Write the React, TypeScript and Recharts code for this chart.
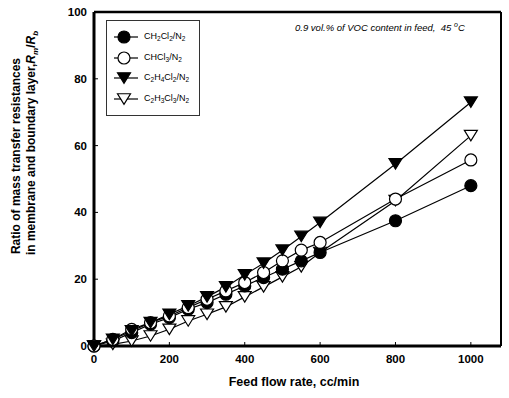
import React from 'react';
import { LineChart, Line, XAxis, YAxis, ReferenceLine, Label } from 'recharts';

const flowRates = [0, 50, 100, 150, 200, 250, 300, 350, 400, 450, 500, 550, 600, 800, 1000];
const ch2cl2 = [0, 1.5, 4, 6.5, 8.5, 11, 13, 15.5, 18, 20.5, 23, 25.5, 28, 37.5, 48];
const chcl3 = [0, 2, 5, 7, 9, 11.5, 14, 16.5, 19, 22, 25.5, 28.7, 31, 44, 55.7];
const c2h4cl2 = [0, 2, 4.5, 7, 9.5, 12, 14.7, 17.7, 21.3, 24.8, 28.7, 32.8, 37, 54.5, 73];
const c2h3cl3 = [0, 0.5, 1.5, 3, 5, 7.5, 9.5, 11.7, 14.7, 17.7, 20.7, 23.7, 28, 43.5, 63];
const xTicks = [0, 200, 400, 600, 800, 1000];
const yTicks = [0, 20, 40, 60, 80, 100];

const data = flowRates.map((f, i) => ({
  flow: f,
  ch2cl2: ch2cl2[i],
  chcl3: chcl3[i],
  c2h4cl2: c2h4cl2[i],
  c2h3cl3: c2h3cl3[i],
}));

const FONT = '"Liberation Sans", Arial, sans-serif';

type MarkerKind = 'filledCircle' | 'openCircle' | 'filledTri' | 'openTri';

const marker = (kind: MarkerKind, cx: number, cy: number, key?: any) => {
  const fill = kind === 'filledCircle' || kind === 'filledTri' ? '#000' : '#fff';
  if (kind === 'filledCircle' || kind === 'openCircle') {
    return <circle key={key} cx={cx} cy={cy} r={6} fill={fill} stroke="#000" strokeWidth={1.2} />;
  }
  const w = 6.5;
  const h = 10.5;
  const pts = `${cx - w},${cy - h / 2} ${cx + w},${cy - h / 2} ${cx},${cy + h / 2}`;
  return <polygon key={key} points={pts} fill={fill} stroke="#000" strokeWidth={1.2} />;
};

const makeDot = (kind: MarkerKind) => (props: any) => {
  const { cx, cy, index } = props;
  if (cx == null || cy == null) return <g key={`e-${index}`} />;
  return marker(kind, cx, cy, `${kind}-${index}`);
};

const XTick = (props: any) => {
  const { x, y, payload } = props;
  return (
    <g>
      <line x1={x} y1={y} x2={x} y2={y - 4} stroke="#000" strokeWidth={1} />
      <text x={x} y={y + 17} textAnchor="middle" fontFamily={FONT} fontWeight="bold" fontSize={11.5} fill="#000">
        {payload.value}
      </text>
    </g>
  );
};

const YTick = (props: any) => {
  const { x, y, payload } = props;
  return (
    <g>
      <line x1={x} y1={y} x2={x + 4} y2={y} stroke="#000" strokeWidth={1} />
      <text x={x - 7} y={y + 4} textAnchor="end" fontFamily={FONT} fontWeight="bold" fontSize={11.5} fill="#000">
        {payload.value}
      </text>
    </g>
  );
};

const Sub = ({ children }: { children: React.ReactNode }) => (
  <span style={{ fontSize: 6.5, verticalAlign: -2 }}>{children}</span>
);

const legendItems: { kind: MarkerKind; label: React.ReactNode }[] = [
  { kind: 'filledCircle', label: <>CH<Sub>2</Sub>Cl<Sub>2</Sub>/N<Sub>2</Sub></> },
  { kind: 'openCircle', label: <>CHCl<Sub>3</Sub>/N<Sub>2</Sub></> },
  { kind: 'filledTri', label: <>C<Sub>2</Sub>H<Sub>4</Sub>Cl<Sub>2</Sub>/N<Sub>2</Sub></> },
  { kind: 'openTri', label: <>C<Sub>2</Sub>H<Sub>3</Sub>Cl<Sub>3</Sub>/N<Sub>2</Sub></> },
];

const YLabel = () => (
  <g fontFamily={FONT} fontWeight="bold" fontSize={12} fill="#000">
    <text x={0} y={0} transform="translate(20,156) rotate(-90)" textAnchor="middle">
      Ratio of mass transfer resistances
    </text>
    <text x={0} y={0} transform="translate(35,143) rotate(-90)" textAnchor="middle">
      in membrane and boundary layer,
      <tspan fontStyle="italic">R</tspan>
      <tspan fontStyle="italic" fontSize={8} dy={3}>m</tspan>
      <tspan dy={-3}>/</tspan>
      <tspan fontStyle="italic">R</tspan>
      <tspan fontStyle="italic" fontSize={8} dy={3}>b</tspan>
    </text>
  </g>
);

export default function App() {
  return (
    <div style={{ position: 'absolute', left: 0, top: 0, width: 509, height: 398, background: '#fff' }}>
      <LineChart
        width={509}
        height={398}
        data={data}
        margin={{ top: 12, right: 8, bottom: 22, left: 54 }}
      >
        <XAxis
          dataKey="flow"
          type="number"
          domain={[0, 1080]}
          ticks={xTicks}
          tickSize={0}
          tickMargin={0}
          height={30}
          axisLine={{ stroke: '#000', strokeWidth: 3 }}
          tick={<XTick />}
          interval={0}
        />
        <YAxis
          type="number"
          domain={[0, 100]}
          ticks={yTicks}
          tickSize={0}
          tickMargin={0}
          width={40}
          axisLine={{ stroke: '#000', strokeWidth: 3 }}
          tick={<YTick />}
          interval={0}
        >
          <Label content={<YLabel />} />
        </YAxis>
        <ReferenceLine y={100} stroke="#000" strokeWidth={2.5} />
        <ReferenceLine x={1080} stroke="#000" strokeWidth={2} />
        <Line dataKey="c2h3cl3" stroke="#000" strokeWidth={1.2} type="linear" isAnimationActive={false} dot={makeDot('openTri')} activeDot={false} />
        <Line dataKey="ch2cl2" stroke="#000" strokeWidth={1.2} type="linear" isAnimationActive={false} dot={makeDot('filledCircle')} activeDot={false} />
        <Line dataKey="chcl3" stroke="#000" strokeWidth={1.2} type="linear" isAnimationActive={false} dot={makeDot('openCircle')} activeDot={false} />
        <Line dataKey="c2h4cl2" stroke="#000" strokeWidth={1.2} type="linear" isAnimationActive={false} dot={makeDot('filledTri')} activeDot={false} />
      </LineChart>

      {/* Legend box */}
      <div
        style={{
          position: 'absolute',
          left: 106,
          top: 20,
          width: 92,
          height: 94,
          border: '1px solid #333',
          background: '#fff',
          fontFamily: FONT,
          fontSize: 9,
          color: '#000',
        }}
      >
        {legendItems.map((it, i) => (
          <div key={i} style={{ position: 'absolute', left: 0, top: 8 + i * 20.7, height: 16, width: 92 }}>
            <svg width={30} height={16} style={{ position: 'absolute', left: 5, top: 0 }}>
              <line x1={2} y1={8} x2={26} y2={8} stroke="#000" strokeWidth={1.2} />
              {marker(it.kind, 12, 8)}
            </svg>
            <span style={{ position: 'absolute', left: 37, top: 2, whiteSpace: 'nowrap', lineHeight: '11px' }}>
              {it.label}
            </span>
          </div>
        ))}
      </div>

      {/* Annotation */}
      <div
        style={{
          position: 'absolute',
          left: 295,
          top: 21,
          fontFamily: FONT,
          fontStyle: 'italic',
          fontSize: 9.5,
          whiteSpace: 'nowrap',
          color: '#000',
        }}
      >
        0.9 vol.% of VOC content in feed,&nbsp;&nbsp;45 <sup style={{ fontSize: 7 }}>o</sup>C
      </div>

      {/* X axis title */}
      <div
        style={{
          position: 'absolute',
          left: 0,
          width: 588,
          top: 375,
          textAlign: 'center',
          fontFamily: FONT,
          fontWeight: 'bold',
          fontSize: 12.5,
          color: '#000',
        }}
      >
        Feed flow rate, cc/min
      </div>
    </div>
  );
}
